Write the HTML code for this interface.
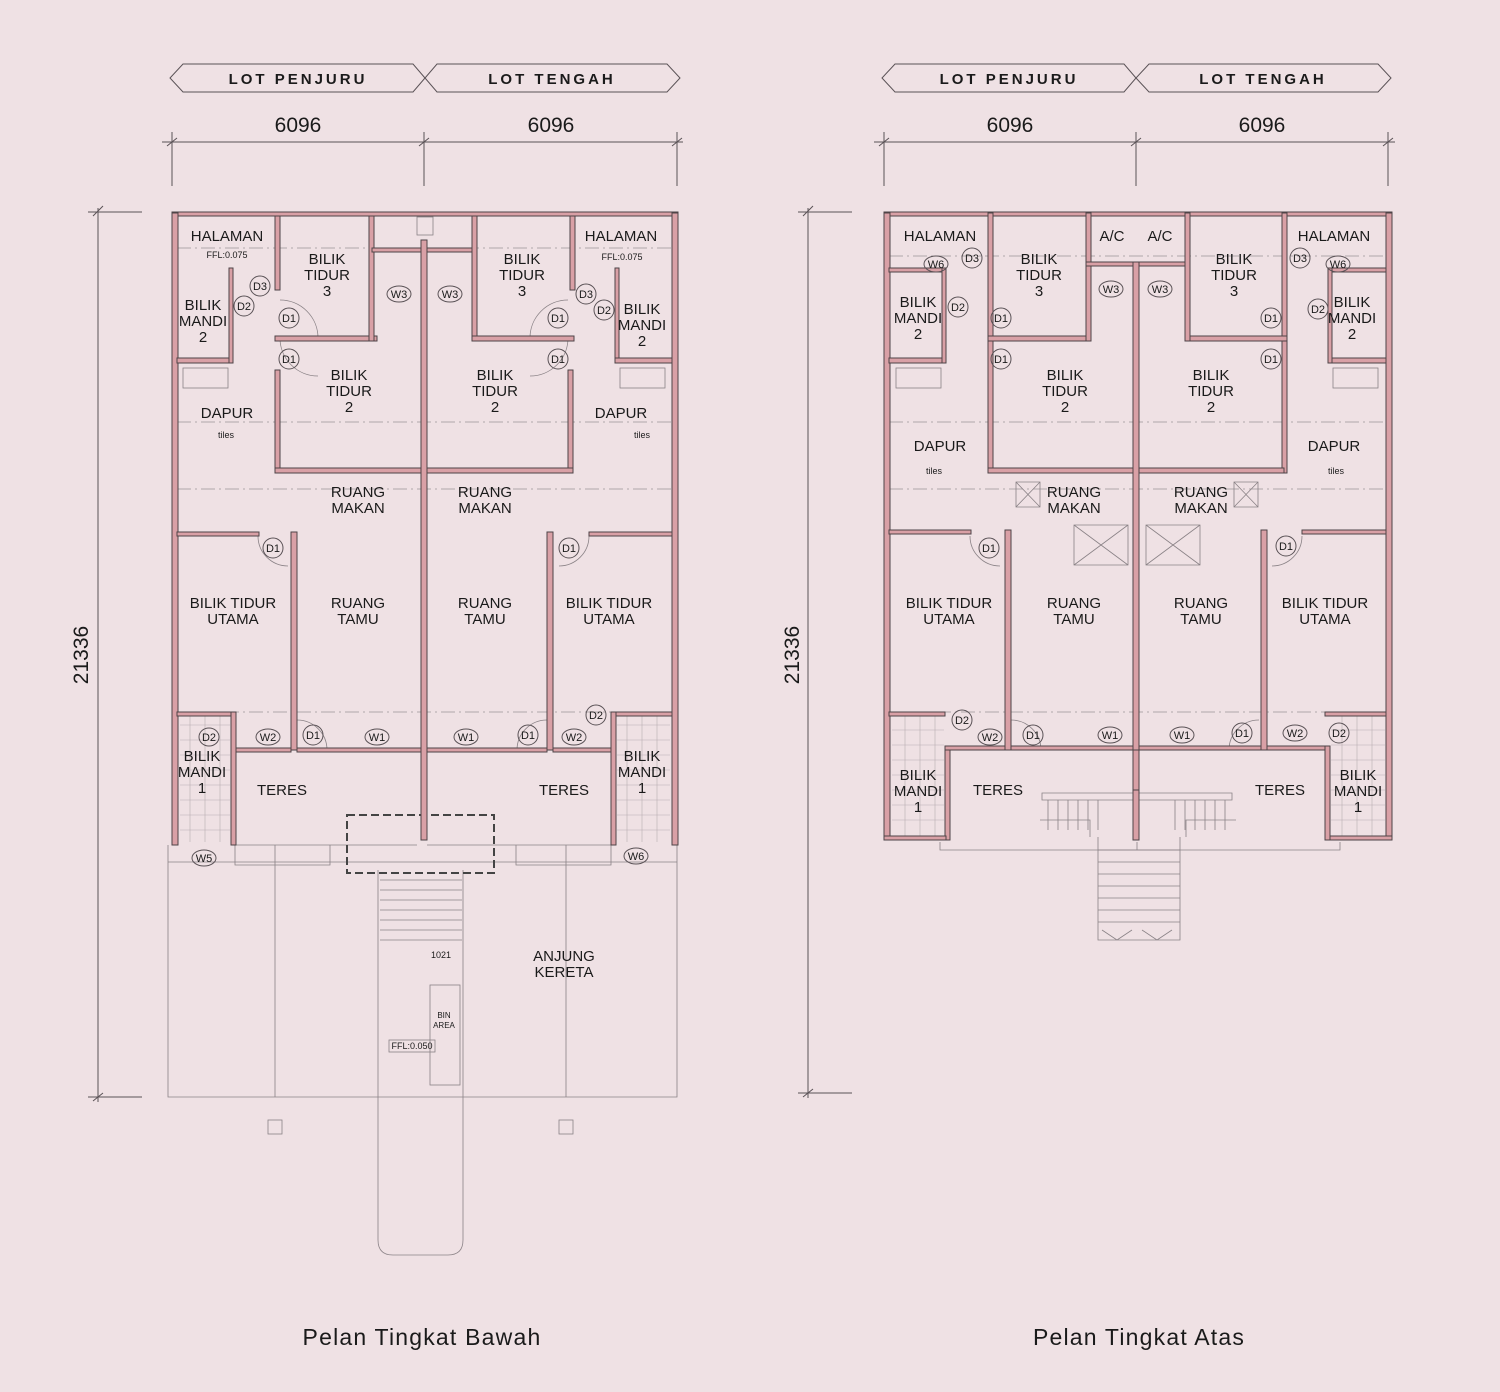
<!DOCTYPE html>
<html><head><meta charset="utf-8"><style>
html,body{margin:0;padding:0;background:#efe1e4;}
svg{display:block}
text{font-family:"Liberation Sans",Arial,sans-serif;fill:#1a1a1a;}
.w{fill:#d9a0a6;stroke:#4e4447;stroke-width:1}
.l{stroke:#5a5256;stroke-width:1;fill:none}
.t{stroke:#8a8286;stroke-width:0.8;fill:none}
.d{stroke:#9a9296;stroke-width:0.8;fill:none;stroke-dasharray:14 4 2 4}
.g{stroke:#b8aeb2;stroke-width:0.6;fill:none}
.lab{font-size:15px;text-anchor:middle}
.tag{font-size:11px;text-anchor:middle}
</style></head><body>
<svg width="1500" height="1392" viewBox="0 0 1500 1392" xmlns="http://www.w3.org/2000/svg">
<rect width="1500" height="1392" fill="#efe1e4"/>

<!-- headers -->
<g class="l" stroke="#555">
<path d="M183,64 L413,64 L425,78 L413,92 L183,92 L170,78 Z"/>
<path d="M437,64 L667,64 L680,78 L667,92 L437,92 L425,78 Z"/>
<path d="M895,64 L1124,64 L1136,78 L1124,92 L895,92 L882,78 Z"/>
<path d="M1149,64 L1378,64 L1391,78 L1378,92 L1149,92 L1136,78 Z"/>
</g>
<g font-size="15" text-anchor="middle" letter-spacing="3" font-weight="bold" fill="#333">
<text x="298" y="84">LOT PENJURU</text><text x="552" y="84">LOT TENGAH</text>
<text x="1009" y="84">LOT PENJURU</text><text x="1263" y="84">LOT TENGAH</text>
</g>
<g font-size="21" text-anchor="middle" fill="#333">
<text x="298" y="132">6096</text><text x="551" y="132">6096</text>
<text x="1010" y="132">6096</text><text x="1262" y="132">6096</text>
</g>
<g class="l">
<path d="M162,142 H683 M172,132 V186 M424,132 V186 M677,132 V186 M167,146 L177,138 M419,146 L429,138 M672,146 L682,138"/>
<path d="M874,142 H1395 M884,132 V186 M1136,132 V186 M1388,132 V186 M879,146 L889,138 M1131,146 L1141,138 M1383,146 L1393,138"/>
<path d="M98,208 V1102 M88,212 H142 M88,1097 H142 M93,216 L103,206 M93,1101 L103,1093"/>
<path d="M808,208 V1098 M798,212 H852 M798,1093 H852 M803,216 L813,206 M803,1097 L813,1089"/>
</g>
<text x="88" y="655" font-size="21" text-anchor="middle" transform="rotate(-90 88 655)" fill="#333">21336</text>
<text x="799" y="655" font-size="21" text-anchor="middle" transform="rotate(-90 799 655)" fill="#333">21336</text>

<!-- ===== LEFT PLAN ===== -->
<g class="d"><path d="M177,422 H672 M177,489 H672 M177,712 H672 M177,248 H672"/></g>
<g class="g">
<path d="M180,725 H230 M180,740 H230 M180,755 H230 M180,770 H230 M180,785 H230 M180,800 H230 M180,815 H230 M180,830 H230 M190,716 V842 M205,716 V842 M220,716 V842"/>
<path d="M617,725 H670 M617,740 H670 M617,755 H670 M617,770 H670 M617,785 H670 M617,800 H670 M617,815 H670 M617,830 H670 M627,716 V842 M642,716 V842 M657,716 V842"/>
</g>
<g class="t">
<path d="M168,845 V1097 H677 V845 M275,845 V1097 M566,845 V1097 M168,862 H677"/>
<path d="M235,845 H417 M427,845 H611 M235,845 V865 H330 V845 M611,845 V865 H516 V845"/>
<path d="M378,870 V1240 Q378,1255 393,1255 H448 Q463,1255 463,1240 V870"/>
<path d="M380,880 H462 M380,890 H462 M380,900 H462 M380,910 H462 M380,920 H462 M380,930 H462 M380,940 H462"/>
<rect x="430" y="985" width="30" height="100"/>
<rect x="389" y="1040" width="46" height="12"/>
<rect x="268" y="1120" width="14" height="14"/><rect x="559" y="1120" width="14" height="14"/>
<rect x="183" y="368" width="45" height="20"/><rect x="620" y="368" width="45" height="20"/>
<rect x="417" y="217" width="16" height="18"/>
<path d="M280,300 A38,38 0 0 1 318,338 M280,338 A38,38 0 0 0 318,376 M568,300 A38,38 0 0 0 530,338 M568,338 A38,38 0 0 1 530,376"/>
<path d="M297,720 A30,30 0 0 1 327,750 M547,720 A30,30 0 0 0 517,750 M258,536 A30,30 0 0 0 288,566 M589,536 A30,30 0 0 1 559,566"/>
</g>
<rect x="347" y="815" width="147" height="58" fill="none" stroke="#444" stroke-width="2" stroke-dasharray="8 4"/>
<g class="w">
<rect x="172" y="212" width="506" height="4"/>
<rect x="172" y="213" width="6" height="632"/><rect x="672" y="213" width="6" height="632"/>
<rect x="421" y="240" width="6" height="600"/>
<rect x="275" y="216" width="5" height="74"/><rect x="275" y="336" width="102" height="5"/><rect x="369" y="216" width="5" height="125"/>
<rect x="275" y="370" width="5" height="103"/><rect x="275" y="468" width="146" height="5"/>
<rect x="472" y="216" width="5" height="125"/><rect x="472" y="336" width="102" height="5"/><rect x="570" y="216" width="5" height="74"/>
<rect x="568" y="370" width="5" height="103"/><rect x="427" y="468" width="146" height="5"/>
<rect x="177" y="358" width="56" height="5"/><rect x="229" y="268" width="4" height="95"/>
<rect x="615" y="268" width="4" height="95"/><rect x="615" y="358" width="57" height="5"/>
<rect x="177" y="532" width="82" height="4"/><rect x="291" y="532" width="6" height="218"/>
<rect x="589" y="532" width="83" height="4"/><rect x="547" y="532" width="6" height="218"/>
<rect x="177" y="712" width="58" height="4"/><rect x="231" y="712" width="5" height="133"/>
<rect x="612" y="712" width="60" height="4"/><rect x="611" y="712" width="5" height="133"/>
<rect x="297" y="748" width="124" height="4"/><rect x="427" y="748" width="120" height="4"/>
<rect x="236" y="748" width="55" height="4"/><rect x="553" y="748" width="58" height="4"/>
<rect x="372" y="248" width="49" height="4"/><rect x="427" y="248" width="45" height="4"/>
</g>
<g class="lab">
<text x="227" y="241">HALAMAN</text><text x="621" y="241">HALAMAN</text>
<text x="327" y="264">BILIK</text><text x="327" y="280">TIDUR</text><text x="327" y="296">3</text>
<text x="522" y="264">BILIK</text><text x="522" y="280">TIDUR</text><text x="522" y="296">3</text>
<text x="203" y="310">BILIK</text><text x="203" y="326">MANDI</text><text x="203" y="342">2</text>
<text x="642" y="314">BILIK</text><text x="642" y="330">MANDI</text><text x="642" y="346">2</text>
<text x="349" y="380">BILIK</text><text x="349" y="396">TIDUR</text><text x="349" y="412">2</text>
<text x="495" y="380">BILIK</text><text x="495" y="396">TIDUR</text><text x="495" y="412">2</text>
<text x="227" y="418">DAPUR</text><text x="621" y="418">DAPUR</text>
<text x="358" y="497">RUANG</text><text x="358" y="513">MAKAN</text>
<text x="485" y="497">RUANG</text><text x="485" y="513">MAKAN</text>
<text x="233" y="608">BILIK TIDUR</text><text x="233" y="624">UTAMA</text>
<text x="609" y="608">BILIK TIDUR</text><text x="609" y="624">UTAMA</text>
<text x="358" y="608">RUANG</text><text x="358" y="624">TAMU</text>
<text x="485" y="608">RUANG</text><text x="485" y="624">TAMU</text>
<text x="202" y="761">BILIK</text><text x="202" y="777">MANDI</text><text x="202" y="793">1</text>
<text x="642" y="761">BILIK</text><text x="642" y="777">MANDI</text><text x="642" y="793">1</text>
<text x="282" y="795">TERES</text><text x="564" y="795">TERES</text>
<text x="564" y="961">ANJUNG</text><text x="564" y="977">KERETA</text>
</g>
<g class="tag">
<ellipse cx="399" cy="294" rx="12" ry="8" class="l"/><text x="399" y="298">W3</text>
<ellipse cx="450" cy="294" rx="12" ry="8" class="l"/><text x="450" y="298">W3</text>
<ellipse cx="289" cy="318" rx="10" ry="10" class="l"/><text x="289" y="322">D1</text>
<ellipse cx="289" cy="359" rx="10" ry="10" class="l"/><text x="289" y="363">D1</text>
<ellipse cx="558" cy="318" rx="10" ry="10" class="l"/><text x="558" y="322">D1</text>
<ellipse cx="558" cy="359" rx="10" ry="10" class="l"/><text x="558" y="363">D1</text>
<ellipse cx="260" cy="286" rx="10" ry="10" class="l"/><text x="260" y="290">D3</text>
<ellipse cx="244" cy="306" rx="10" ry="10" class="l"/><text x="244" y="310">D2</text>
<ellipse cx="586" cy="294" rx="10" ry="10" class="l"/><text x="586" y="298">D3</text>
<ellipse cx="604" cy="310" rx="10" ry="10" class="l"/><text x="604" y="314">D2</text>
<ellipse cx="273" cy="548" rx="10" ry="10" class="l"/><text x="273" y="552">D1</text>
<ellipse cx="569" cy="548" rx="10" ry="10" class="l"/><text x="569" y="552">D1</text>
<ellipse cx="268" cy="737" rx="12" ry="8" class="l"/><text x="268" y="741">W2</text>
<ellipse cx="313" cy="735" rx="10" ry="10" class="l"/><text x="313" y="739">D1</text>
<ellipse cx="377" cy="737" rx="12" ry="8" class="l"/><text x="377" y="741">W1</text>
<ellipse cx="466" cy="737" rx="12" ry="8" class="l"/><text x="466" y="741">W1</text>
<ellipse cx="528" cy="735" rx="10" ry="10" class="l"/><text x="528" y="739">D1</text>
<ellipse cx="574" cy="737" rx="12" ry="8" class="l"/><text x="574" y="741">W2</text>
<ellipse cx="596" cy="715" rx="10" ry="10" class="l"/><text x="596" y="719">D2</text>
<ellipse cx="209" cy="737" rx="10" ry="9" class="l"/><text x="209" y="741">D2</text>
<ellipse cx="204" cy="858" rx="12" ry="8" class="l"/><text x="204" y="862">W5</text>
<ellipse cx="636" cy="856" rx="12" ry="8" class="l"/><text x="636" y="860">W6</text>
<text x="226" y="438" fill="#888" font-size="9">tiles</text><text x="642" y="438" fill="#888" font-size="9">tiles</text>
<text x="441" y="958" font-size="9">1021</text><text x="412" y="1049" font-size="9">FFL:0.050</text>
<text x="444" y="1018" font-size="8">BIN</text><text x="444" y="1028" font-size="8">AREA</text>
<text x="227" y="258" font-size="9">FFL:0.075</text><text x="622" y="260" font-size="9">FFL:0.075</text>
</g>

<!-- ===== RIGHT PLAN ===== -->
<g class="d"><path d="M889,422 H1386 M889,489 H1386 M889,712 H1386 M889,256 H1386"/></g>
<g class="g">
<path d="M892,730 H944 M892,745 H944 M892,760 H944 M892,775 H944 M892,790 H944 M892,805 H944 M892,820 H944 M905,716 V836 M920,716 V836 M935,716 V836"/>
<path d="M1331,730 H1385 M1331,745 H1385 M1331,760 H1385 M1331,775 H1385 M1331,790 H1385 M1331,805 H1385 M1331,820 H1385 M1342,716 V836 M1357,716 V836 M1372,716 V836"/>
</g>
<g class="t">
<path d="M940,842 V850 H1137 V842 M1136,850 H1340 V842"/>
<path d="M1042,793 H1232 V800 H1042 Z"/>
<path d="M1048,800 V830 M1058,800 V830 M1068,800 V830 M1078,800 V830 M1088,800 V830 M1098,800 V830 M1175,800 V830 M1185,800 V830 M1195,800 V830 M1205,800 V830 M1215,800 V830 M1225,800 V830"/>
<path d="M1098,837 V940 H1180 V837 M1098,850 H1180 M1098,862 H1180 M1098,874 H1180 M1098,886 H1180 M1098,898 H1180 M1098,910 H1180 M1098,922 H1180 M1102,930 L1117,940 L1132,930 M1142,930 L1157,940 L1172,930"/>
<path d="M1040,820 H1090 V837 M1236,820 H1186 V837"/>
<path d="M1016,482 H1040 V507 H1016 Z M1016,482 L1040,507 M1040,482 L1016,507 M1234,482 H1258 V507 H1234 Z M1234,482 L1258,507 M1258,482 L1234,507"/>
<path d="M1074,525 H1128 V565 H1074 Z M1074,525 L1128,565 M1128,525 L1074,565 M1146,525 H1200 V565 H1146 Z M1146,525 L1200,565 M1200,525 L1146,565"/>
<rect x="896" y="368" width="45" height="20"/><rect x="1333" y="368" width="45" height="20"/>
<path d="M1011,720 A30,30 0 0 1 1041,750 M1259,720 A30,30 0 0 0 1229,750 M970,536 A30,30 0 0 0 1000,566 M1302,536 A30,30 0 0 1 1272,566"/>
</g>
<g class="w">
<rect x="884" y="212" width="508" height="4"/>
<rect x="884" y="213" width="6" height="627"/><rect x="1386" y="213" width="6" height="627"/>
<rect x="1133" y="262" width="6" height="578"/>
<rect x="988" y="213" width="5" height="260"/><rect x="988" y="336" width="101" height="5"/><rect x="1086" y="213" width="5" height="128"/>
<rect x="988" y="468" width="145" height="5"/>
<rect x="1282" y="213" width="5" height="260"/><rect x="1185" y="336" width="102" height="5"/><rect x="1185" y="213" width="5" height="128"/>
<rect x="1139" y="468" width="145" height="5"/>
<rect x="1086" y="262" width="47" height="4"/><rect x="1139" y="262" width="46" height="4"/>
<rect x="889" y="268" width="56" height="4"/><rect x="889" y="358" width="56" height="5"/><rect x="942" y="268" width="4" height="95"/>
<rect x="1328" y="268" width="58" height="4"/><rect x="1328" y="358" width="58" height="5"/><rect x="1328" y="268" width="4" height="95"/>
<rect x="889" y="530" width="82" height="4"/><rect x="1005" y="530" width="6" height="220"/>
<rect x="1302" y="530" width="84" height="4"/><rect x="1261" y="530" width="6" height="220"/>
<rect x="889" y="712" width="56" height="4"/><rect x="945" y="746" width="5" height="94"/>
<rect x="1325" y="712" width="61" height="4"/><rect x="1325" y="746" width="5" height="94"/>
<rect x="945" y="746" width="60" height="4"/><rect x="1011" y="746" width="122" height="4"/>
<rect x="1139" y="746" width="122" height="4"/><rect x="1267" y="746" width="58" height="4"/>
<rect x="884" y="836" width="62" height="4"/><rect x="1330" y="836" width="62" height="4"/>
<rect x="1133" y="750" width="6" height="40"/>
</g>
<g class="lab">
<text x="940" y="241">HALAMAN</text><text x="1334" y="241">HALAMAN</text>
<text x="1112" y="241">A/C</text><text x="1160" y="241">A/C</text>
<text x="1039" y="264">BILIK</text><text x="1039" y="280">TIDUR</text><text x="1039" y="296">3</text>
<text x="1234" y="264">BILIK</text><text x="1234" y="280">TIDUR</text><text x="1234" y="296">3</text>
<text x="918" y="307">BILIK</text><text x="918" y="323">MANDI</text><text x="918" y="339">2</text>
<text x="1352" y="307">BILIK</text><text x="1352" y="323">MANDI</text><text x="1352" y="339">2</text>
<text x="1065" y="380">BILIK</text><text x="1065" y="396">TIDUR</text><text x="1065" y="412">2</text>
<text x="1211" y="380">BILIK</text><text x="1211" y="396">TIDUR</text><text x="1211" y="412">2</text>
<text x="940" y="451">DAPUR</text><text x="1334" y="451">DAPUR</text>
<text x="1074" y="497">RUANG</text><text x="1074" y="513">MAKAN</text>
<text x="1201" y="497">RUANG</text><text x="1201" y="513">MAKAN</text>
<text x="949" y="608">BILIK TIDUR</text><text x="949" y="624">UTAMA</text>
<text x="1325" y="608">BILIK TIDUR</text><text x="1325" y="624">UTAMA</text>
<text x="1074" y="608">RUANG</text><text x="1074" y="624">TAMU</text>
<text x="1201" y="608">RUANG</text><text x="1201" y="624">TAMU</text>
<text x="918" y="780">BILIK</text><text x="918" y="796">MANDI</text><text x="918" y="812">1</text>
<text x="1358" y="780">BILIK</text><text x="1358" y="796">MANDI</text><text x="1358" y="812">1</text>
<text x="998" y="795">TERES</text><text x="1280" y="795">TERES</text>
</g>
<g class="tag">
<ellipse cx="936" cy="264" rx="12" ry="8" class="l"/><text x="936" y="268">W6</text>
<ellipse cx="1338" cy="264" rx="12" ry="8" class="l"/><text x="1338" y="268">W6</text>
<ellipse cx="972" cy="258" rx="10" ry="10" class="l"/><text x="972" y="262">D3</text>
<ellipse cx="958" cy="307" rx="10" ry="10" class="l"/><text x="958" y="311">D2</text>
<ellipse cx="1300" cy="258" rx="10" ry="10" class="l"/><text x="1300" y="262">D3</text>
<ellipse cx="1318" cy="309" rx="10" ry="10" class="l"/><text x="1318" y="313">D2</text>
<ellipse cx="1001" cy="318" rx="10" ry="10" class="l"/><text x="1001" y="322">D1</text>
<ellipse cx="1001" cy="359" rx="10" ry="10" class="l"/><text x="1001" y="363">D1</text>
<ellipse cx="1271" cy="318" rx="10" ry="10" class="l"/><text x="1271" y="322">D1</text>
<ellipse cx="1271" cy="359" rx="10" ry="10" class="l"/><text x="1271" y="363">D1</text>
<ellipse cx="1111" cy="289" rx="12" ry="8" class="l"/><text x="1111" y="293">W3</text>
<ellipse cx="1160" cy="289" rx="12" ry="8" class="l"/><text x="1160" y="293">W3</text>
<ellipse cx="989" cy="548" rx="10" ry="10" class="l"/><text x="989" y="552">D1</text>
<ellipse cx="1286" cy="546" rx="10" ry="10" class="l"/><text x="1286" y="550">D1</text>
<ellipse cx="962" cy="720" rx="10" ry="10" class="l"/><text x="962" y="724">D2</text>
<ellipse cx="990" cy="737" rx="12" ry="8" class="l"/><text x="990" y="741">W2</text>
<ellipse cx="1033" cy="735" rx="10" ry="10" class="l"/><text x="1033" y="739">D1</text>
<ellipse cx="1110" cy="735" rx="12" ry="8" class="l"/><text x="1110" y="739">W1</text>
<ellipse cx="1182" cy="735" rx="12" ry="8" class="l"/><text x="1182" y="739">W1</text>
<ellipse cx="1242" cy="733" rx="10" ry="10" class="l"/><text x="1242" y="737">D1</text>
<ellipse cx="1295" cy="733" rx="12" ry="8" class="l"/><text x="1295" y="737">W2</text>
<ellipse cx="1339" cy="733" rx="10" ry="10" class="l"/><text x="1339" y="737">D2</text>
<text x="934" y="474" fill="#888" font-size="9">tiles</text><text x="1336" y="474" fill="#888" font-size="9">tiles</text>
</g>

<text x="422" y="1345" font-size="23" letter-spacing="1.2" text-anchor="middle" fill="#333">Pelan Tingkat Bawah</text>
<text x="1139" y="1345" font-size="23" letter-spacing="1.2" text-anchor="middle" fill="#333">Pelan Tingkat Atas</text>
</svg>
</body></html>
